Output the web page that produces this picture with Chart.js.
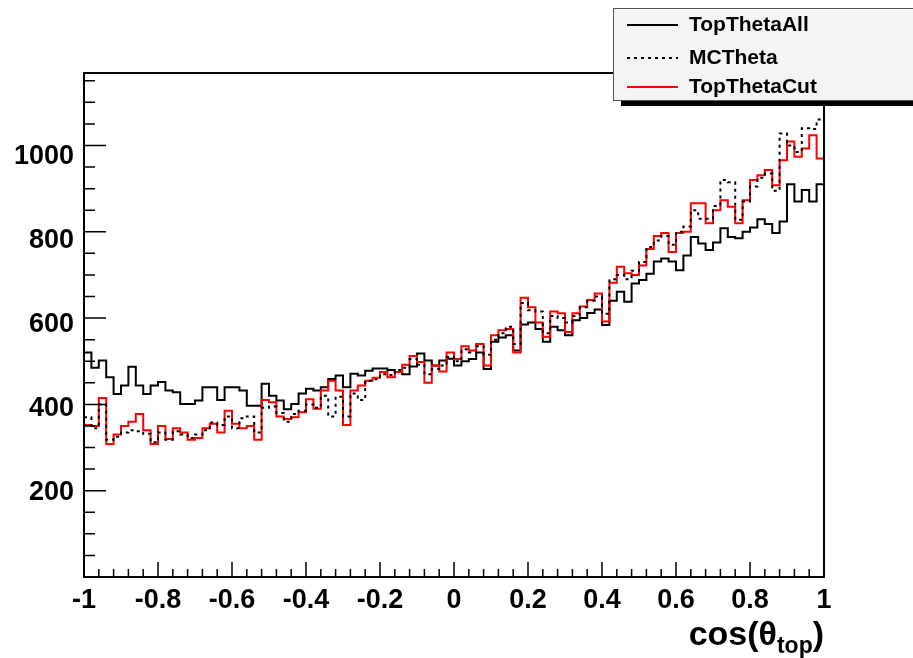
<!DOCTYPE html>
<html><head><meta charset="utf-8">
<script src="https://cdn.jsdelivr.net/npm/chart.js@4"></script>
<style>html,body{margin:0;padding:0;background:#fff}#wrap{width:913px;height:658px;position:relative}</style>
</head><body><div id="wrap"><canvas id="c"></canvas></div>
<script>
const xMin = -1, xMax = 1, yMax = 1168;
const seriesLabels = ['TopThetaAll', 'MCTheta', 'TopThetaCut'];
const xTickLabels = ['-1','-0.8','-0.6','-0.4','-0.2','0','0.2','0.4','0.6','0.8','1'];
const yTickLabels = ['','200','400','600','800','1000'];
const xTitleMain = 'cos(\u03B8', xTitleSub = 'top', xTitleEnd = ')';

const topThetaAll = [
520,485,502,463,424,444,487,444,424,444,
452,432,428,401,401,409,440,440,410,440,
440,432,397,397,448,420,409,389,401,425,
436,432,440,459,467,440,471,467,478,483,
483,480,475,470,488,518,502,490,502,506,
490,500,505,520,482,545,555,560,525,585,
590,575,545,580,572,560,595,600,612,620,
584,640,661,638,680,688,703,731,738,731,
711,745,788,773,758,775,808,788,785,800,
810,829,818,797,824,910,870,897,870,910];

const mcTheta = [
370,345,400,318,325,335,340,338,332,312,
335,318,338,330,322,330,340,358,352,372,
345,368,372,335,392,395,380,360,378,385,
400,392,420,372,418,372,425,410,455,458,
470,468,480,485,505,492,470,482,490,510,
500,528,520,535,515,550,565,580,540,635,
618,615,565,605,600,590,605,625,640,650,
610,690,700,690,710,730,765,780,790,770,
800,812,850,830,830,860,920,915,828,870,
905,925,935,895,1028,1000,985,1040,1038,1060];

const topThetaCut = [
352,350,415,308,330,350,360,378,340,308,
350,320,345,335,318,322,345,355,335,385,
355,345,350,318,410,405,372,366,370,382,
412,390,432,455,432,352,432,444,455,462,
475,463,475,492,512,498,450,490,476,520,
505,535,525,540,490,560,572,575,520,647,
625,590,557,615,611,568,611,627,642,657,
592,682,719,704,700,722,760,790,797,753,
797,800,866,866,820,850,873,858,820,873,
920,931,943,908,966,1009,974,993,1024,970];

function toSteps(values){
  const w = (xMax - xMin) / values.length;
  const pts = values.map((v,i)=>({x: xMin + i*w, y: v}));
  pts.push({x: xMax, y: values[values.length-1]});
  return pts;
}

const FONT = '"Liberation Sans", Arial, Helvetica, sans-serif';

const rootStyle = {
  id: 'rootStyle',
  afterDatasetsDraw(chart){
    const {ctx, chartArea:a, scales:{x, y}} = chart;
    ctx.save();
    ctx.strokeStyle = '#000';
    ctx.lineWidth = 1.5;
    ctx.beginPath();
    for (let k = 0; k * 50 <= yMax; k++){
      const py = y.getPixelForValue(k*50);
      const len = (k % 4 === 0) ? 22 : 11;
      ctx.moveTo(a.left, py); ctx.lineTo(a.left + len, py);
    }
    for (let k = 0; k <= 50; k++){
      const px = x.getPixelForValue(xMin + k*0.04);
      const len = (k % 5 === 0) ? 15 : 8;
      ctx.moveTo(px, a.bottom); ctx.lineTo(px, a.bottom - len);
    }
    ctx.stroke();
    ctx.lineWidth = 2;
    ctx.strokeRect(a.left, a.top, a.width, a.height);
    ctx.restore();
  },
  afterDraw(chart){
    const {ctx, chartArea:a} = chart;
    ctx.save();
    // axis title
    ctx.fillStyle = '#000';
    ctx.textBaseline = 'alphabetic';
    const fMain = 'bold 34px ' + FONT, fSub = 'bold 23px ' + FONT;
    ctx.font = fMain; const w1 = ctx.measureText(xTitleMain).width; const w3 = ctx.measureText(xTitleEnd).width;
    ctx.font = fSub; const w2 = ctx.measureText(xTitleSub).width;
    let tx = a.right - (w1 + w2 + w3);
    const by = 645;
    ctx.font = fMain; ctx.fillText(xTitleMain, tx, by); tx += w1;
    ctx.font = fSub; ctx.fillText(xTitleSub, tx, by + 8); tx += w2;
    ctx.font = fMain; ctx.fillText(xTitleEnd, tx, by);

    // legend box (ROOT TLegend)
    const bx = 613, byy = 8, bw = 320, bh = 92;
    ctx.fillStyle = '#000';
    ctx.fillRect(bx + 8, byy + 6, bw, bh);
    ctx.fillStyle = '#f4f4f4';
    ctx.fillRect(bx, byy, bw, bh);
    ctx.strokeStyle = '#555'; ctx.lineWidth = 1;
    ctx.strokeRect(bx + 0.5, byy + 0.5, bw, bh);
    const rows = [25, 58, 87];
    ctx.font = 'bold 21px ' + FONT;
    ctx.textBaseline = 'middle';
    [0, 1, 2].forEach((di, r) => {
      const ds = chart.data.datasets[di];
      ctx.strokeStyle = ds.borderColor; ctx.lineWidth = 2;
      ctx.setLineDash(ds.borderDash || []);
      ctx.beginPath(); ctx.moveTo(627, rows[r]); ctx.lineTo(678, rows[r]); ctx.stroke();
      ctx.setLineDash([]);
      ctx.fillStyle = '#000';
      ctx.fillText(ds.label, 689, rows[r]);
    });
    ctx.restore();
  }
};

new Chart(document.getElementById('c'), {
  type: 'line',
  data: {
    datasets: [
      {label: seriesLabels[0], data: toSteps(topThetaAll), borderColor: '#000000', borderWidth: 2, stepped: true, pointRadius: 0, fill: false, order: 2},
      {label: seriesLabels[1], data: toSteps(mcTheta), borderColor: '#000000', borderWidth: 2, borderDash: [3,4], stepped: true, pointRadius: 0, fill: false, order: 0},
      {label: seriesLabels[2], data: toSteps(topThetaCut), borderColor: '#ff0000', borderWidth: 2, stepped: true, pointRadius: 0, fill: false, order: 1}
    ]
  },
  options: {
    responsive: true, maintainAspectRatio: false, animation: false,
    layout: {padding: {left: 0, right: 89, top: 73, bottom: 0}},
    plugins: {legend: {display: false}, tooltip: {enabled: false}},
    scales: {
      x: {
        type: 'linear', min: xMin, max: xMax,
        grid: {display: false, drawTicks: false}, border: {display: false},
        ticks: {stepSize: 0.2, autoSkip: false, maxRotation: 0, padding: 7, color: '#000',
          font: {family: FONT, size: 27, weight: 'bold'},
          callback: (v, i) => xTickLabels[i]},
        afterFit: s => { s.height = 81; }
      },
      y: {
        type: 'linear', min: 0, max: yMax,
        grid: {display: false, drawTicks: false}, border: {display: false},
        ticks: {stepSize: 200, includeBounds: false, padding: 10, color: '#000',
          font: {family: FONT, size: 27, weight: 'bold'},
          callback: (v, i) => yTickLabels[i]},
        afterFit: s => { s.width = 84; }
      }
    }
  },
  plugins: [rootStyle]
});
</script></body></html>
